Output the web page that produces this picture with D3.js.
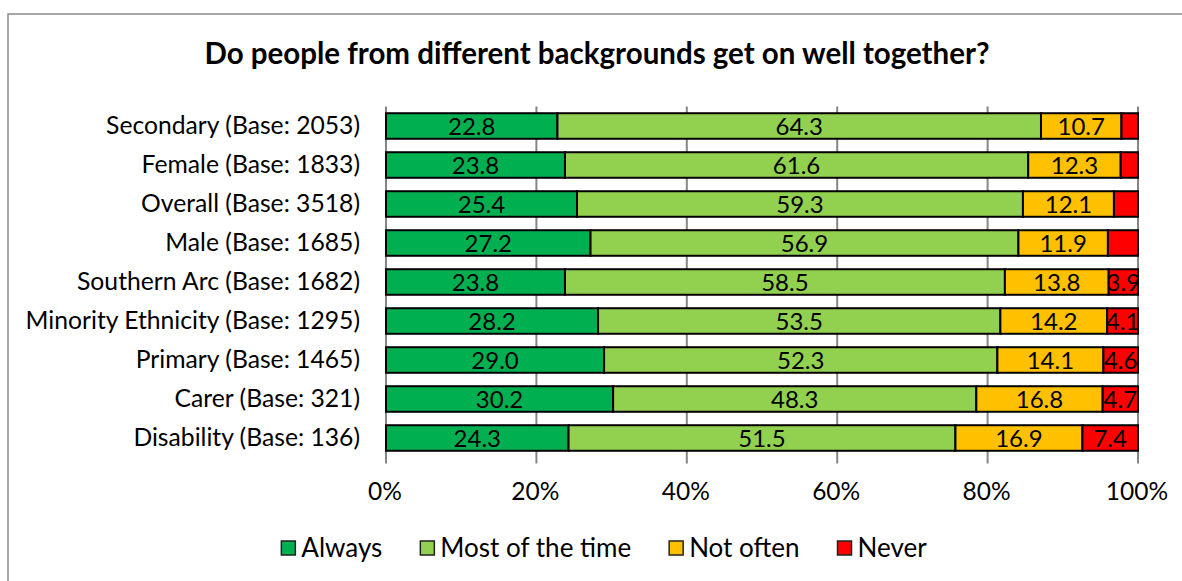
<!DOCTYPE html>
<html>
<head>
<meta charset="utf-8">
<script src="https://cdn.jsdelivr.net/npm/d3@7"></script>
<style>
  html, body { margin: 0; padding: 0; background: #fff; }
  svg { display: block; }
  text { font-family: Lato, "Open Sans", sans-serif; fill: #000; }
</style>
</head>
<body>
<svg id="chart" width="1182" height="581"></svg>
<script>
// ---------- data ----------
const categories = [
  "Secondary (Base: 2053)",
  "Female (Base: 1833)",
  "Overall (Base: 3518)",
  "Male (Base: 1685)",
  "Southern Arc (Base: 1682)",
  "Minority Ethnicity (Base: 1295)",
  "Primary (Base: 1465)",
  "Carer (Base: 321)",
  "Disability (Base: 136)"
];
const always   = [22.8, 23.8, 25.4, 27.2, 23.8, 28.2, 29.0, 30.2, 24.3];
const mostTime = [64.3, 61.6, 59.3, 56.9, 58.5, 53.5, 52.3, 48.3, 51.5];
const notOften = [10.7, 12.3, 12.1, 11.9, 13.8, 14.2, 14.1, 16.8, 16.9];
const never    = [2.2, 2.3, 3.2, 4.0, 3.9, 4.1, 4.6, 4.7, 7.4];
const neverLabelShown = [false, false, false, false, true, true, true, true, true];
const seriesNames = ["Always", "Most of the time", "Not often", "Never"];
const seriesColors = ["#00B050", "#92D050", "#FFC000", "#FF0000"];
const tickValues = [0, 20, 40, 60, 80, 100];
const titleText = "Do people from different backgrounds get on well together?";

// ---------- layout ----------
const svg = d3.select("#chart");
const plotLeft = 386, plotRight = 1138, plotTop = 106.5, plotBottom = 457.5;
const labelSize = 24.7, dataSize = 24, tickSize = 24.5, legendSize = 26, titleSize = 29.5;

const seriesArrays = [always, mostTime, notOften, never];
const rows = categories.map((c, i) => {
  const r = { cat: c, idx: i };
  seriesNames.forEach((s, k) => { r[s] = seriesArrays[k][i]; });
  return r;
});

const stacked = d3.stack().keys(seriesNames).offset(d3.stackOffsetExpand)(rows);

const x = d3.scaleLinear().domain([0, 1]).range([plotLeft, plotRight]);
const y = d3.scaleBand().domain(categories).range([plotTop, plotBottom])
  .paddingInner(0.345).paddingOuter(0.1725);

// border
svg.append("rect").attr("x", 8).attr("y", 14).attr("width", 1400).attr("height", 800)
  .attr("fill", "none").attr("stroke", "#8a8a8a").attr("stroke-width", 1.5);

// title
svg.append("text").attr("x", 597).attr("y", 64).attr("text-anchor", "middle")
  .style("font-weight", "bold").style("font-size", titleSize + "px").text(titleText);

// gridlines + ticks
svg.append("g").selectAll("line").data(tickValues).join("line")
  .attr("x1", d => x(d / 100)).attr("x2", d => x(d / 100))
  .attr("y1", plotTop).attr("y2", plotBottom + 6)
  .attr("stroke", "#868686").attr("stroke-width", 2);

// bars
const defs = svg.append("defs");
const gBars = svg.append("g");
stacked.forEach((layer, k) => {
  layer.forEach((seg, i) => {
    const x0 = x(seg[0]), x1 = x(seg[1]);
    const yy = y(categories[i]), h = y.bandwidth();
    const clipId = `clip-${k}-${i}`;
    defs.append("clipPath").attr("id", clipId).append("rect")
      .attr("x", x0).attr("y", yy).attr("width", x1 - x0).attr("height", h);
    gBars.append("rect")
      .attr("x", x0).attr("y", yy).attr("width", x1 - x0).attr("height", h)
      .attr("fill", seriesColors[k]).attr("stroke", "#000").attr("stroke-width", 2);
    const show = k < 3 || neverLabelShown[i];
    if (show) {
      gBars.append("text")
        .attr("clip-path", `url(#${clipId})`)
        .attr("x", (x0 + x1) / 2).attr("y", yy + h / 2 + dataSize * 0.36)
        .attr("text-anchor", "middle").style("font-size", dataSize + "px")
        .text(seriesArrays[k][i].toFixed(1));
    }
  });
});

// category axis labels
svg.append("g").selectAll("text").data(categories).join("text")
  .attr("x", 360).attr("y", d => y(d) + y.bandwidth() / 2 + labelSize * 0.33)
  .attr("text-anchor", "end").style("font-size", labelSize + "px").text(d => d);

// x tick labels
svg.append("g").selectAll("text").data(tickValues).join("text")
  .attr("x", d => x(d / 100) - 1).attr("y", 500)
  .attr("text-anchor", "middle").style("font-size", tickSize + "px").text(d => d + "%");

// legend
const legend = svg.append("g");
const sq = 15, gapT = 5, gapItem = 38;
let widths = [];
const tmp = legend.selectAll("text.tmp").data(seriesNames).join("text")
  .style("font-size", legendSize + "px").text(d => d);
tmp.each(function() { widths.push(this.getComputedTextLength()); });
tmp.remove();
const total = d3.sum(widths) + seriesNames.length * (sq + gapT) + (seriesNames.length - 1) * gapItem;
let cx = 604 - total / 2;
seriesNames.forEach((s, k) => {
  legend.append("rect").attr("x", cx).attr("y", 541).attr("width", sq - 1).attr("height", sq - 1)
    .attr("fill", seriesColors[k]).attr("stroke", "#222").attr("stroke-width", 1.5);
  legend.append("text").attr("x", cx + sq + gapT).attr("y", 557)
    .style("font-size", legendSize + "px").text(s);
  cx += sq + gapT + widths[k] + gapItem;
});
</script>
</body>
</html>
